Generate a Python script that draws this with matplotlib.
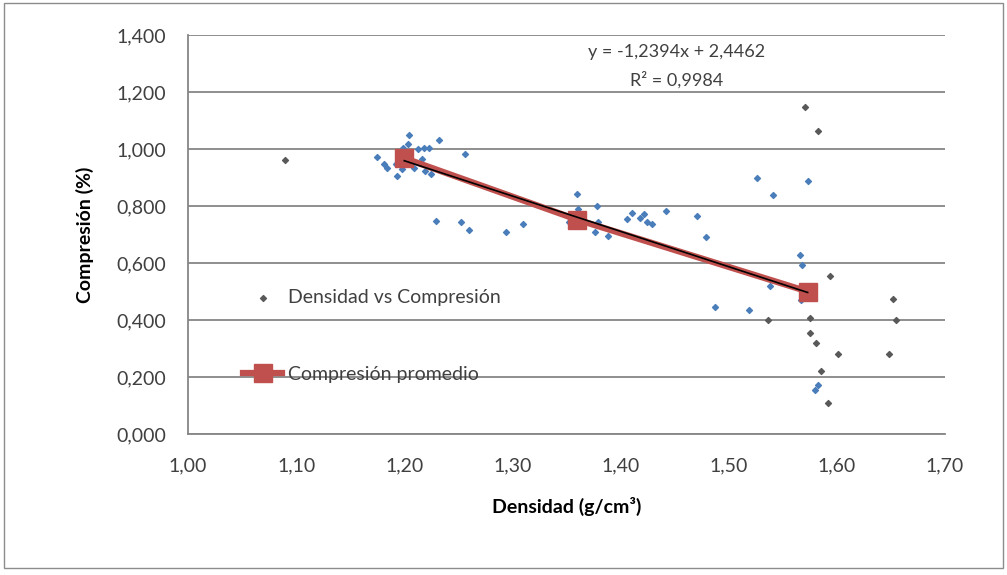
import matplotlib
matplotlib.use("Agg")
import numpy as np
import matplotlib.pyplot as plt
from matplotlib.ticker import FuncFormatter
from matplotlib.patches import Rectangle

plt.rcParams['font.family'] = ['Lato', 'DejaVu Sans']

# Densidad vs Compresión (blue points)
dens_blue = [1.204, 1.232, 1.203, 1.199, 1.213, 1.218, 1.223, 1.175, 1.181, 1.184,
             1.192, 1.193, 1.198, 1.209, 1.216, 1.219, 1.225, 1.256, 1.229, 1.252,
             1.260, 1.294, 1.310, 1.360, 1.361, 1.378, 1.352, 1.379, 1.376, 1.388,
             1.406, 1.411, 1.418, 1.442, 1.422, 1.424, 1.429, 1.471, 1.479, 1.526,
             1.487, 1.519, 1.541, 1.566, 1.568, 1.573, 1.538, 1.567, 1.583, 1.580]
comp_blue = [1.049, 1.032, 1.018, 1.004, 1.000, 1.004, 1.004, 0.972, 0.947, 0.933,
             0.947, 0.905, 0.930, 0.933, 0.965, 0.923, 0.912, 0.982, 0.747, 0.744,
             0.716, 0.709, 0.737, 0.842, 0.789, 0.800, 0.744, 0.744, 0.709, 0.695,
             0.754, 0.775, 0.758, 0.782, 0.772, 0.744, 0.737, 0.765, 0.691, 0.898,
             0.446, 0.435, 0.839, 0.628, 0.593, 0.888, 0.519, 0.470, 0.172, 0.154]

# Densidad vs Compresión (gray points)
dens_gray = [1.090, 1.571, 1.583, 1.594, 1.652, 1.536, 1.575, 1.655, 1.575, 1.581,
             1.601, 1.648, 1.585, 1.592]
comp_gray = [0.961, 1.147, 1.063, 0.554, 0.474, 0.400, 0.407, 0.400, 0.354, 0.319,
             0.281, 0.281, 0.221, 0.109]

# Compresión promedio
dens_prom = [1.20, 1.36, 1.573]
comp_prom = [0.968, 0.752, 0.500]

slope, intercept = -1.2394, 2.4462

fig = plt.figure(figsize=(10.07, 5.75), dpi=100)
fig.patches.append(Rectangle((0.004, 0.012), 0.992, 0.983, transform=fig.transFigure,
                             fill=False, edgecolor='#8c8c8c', lw=1.0))
ax = fig.add_axes([0.1867, 0.2452, 0.7517, 0.6939])

ax.scatter(dens_blue, comp_blue, marker='D', s=9, color='#4a7ebb', zorder=3)
ax.scatter(dens_gray, comp_gray, marker='D', s=9, color='#595959', zorder=3,
           label='Densidad vs Compresión')
ax.plot(dens_prom, comp_prom, color='#c0504d', lw=4.5, marker='s', markersize=13,
        zorder=4, label='Compresión promedio')
xt = np.array([dens_prom[0], dens_prom[-1]])
ax.plot(xt, slope * xt + intercept, color='black', lw=1.2, zorder=5)

ax.set_xlim(1.0, 1.7)
ax.set_ylim(0, 1.4)
ax.set_xticks(np.arange(1.0, 1.71, 0.1))
ax.set_yticks(np.arange(0, 1.41, 0.2))
ax.xaxis.set_major_formatter(FuncFormatter(lambda v, p: f"{v:.2f}".replace('.', ',')))
ax.yaxis.set_major_formatter(FuncFormatter(lambda v, p: f"{v:.3f}".replace('.', ',')))
ax.tick_params(axis='y', length=0, labelsize=14, colors='#404040', pad=16)
ax.tick_params(axis='x', length=0, labelsize=14, colors='#404040', pad=17)
ax.grid(axis='y', color='#868686', lw=1.3)
ax.set_axisbelow(True)
for s in ['top', 'right']:
    ax.spines[s].set_visible(False)
for s in ['left', 'bottom']:
    ax.spines[s].set_color('#868686')
    ax.spines[s].set_linewidth(1.3)

ax.set_xlabel('Densidad (g/cm³)', fontsize=14, fontweight='bold', labelpad=16)
ax.set_ylabel('Compresión (%)', fontsize=14, fontweight='bold', labelpad=16)

ax.text(0.645, 0.922, 'y = -1,2394x + 2,4462\nR² = 0,9984', transform=ax.transAxes,
        ha='center', va='center', fontsize=13, color='#404040', linespacing=1.75)

leg = ax.legend(loc='center left', bbox_to_anchor=(0.05, 0.2456), frameon=False,
                fontsize=14, labelspacing=3.1, handlelength=2.0, handletextpad=0.3,
                markerscale=1.0)
for t in leg.get_texts():
    t.set_color('#404040')

fig.savefig('out.png', dpi=100)
